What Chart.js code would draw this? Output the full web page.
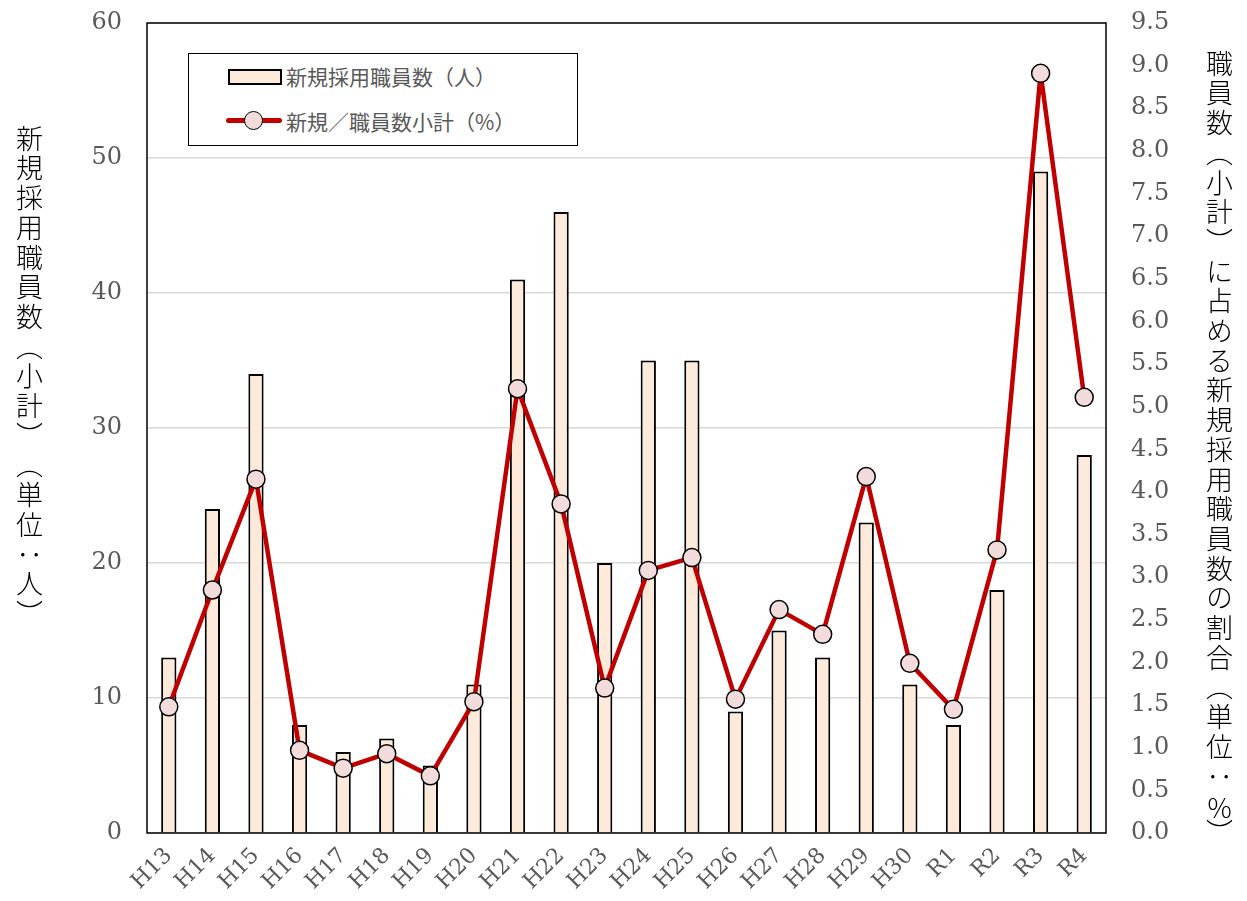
<!DOCTYPE html>
<html lang="ja">
<head>
<meta charset="utf-8">
<title>新規採用職員数</title>
<script src="https://cdn.jsdelivr.net/npm/chart.js@4"></script>
<style>
  html, body { margin: 0; padding: 0; background: #fff; }
  #wrap { position: relative; width: 1247px; height: 901px; }
  #chart { position: absolute; left: 0; top: 0; }
  .vtitle {
    position: absolute;
    writing-mode: vertical-rl;
    text-orientation: mixed;
    text-spacing-trim: space-all;
    font-family: "Noto Sans CJK JP", sans-serif;
    font-weight: 300;
    font-size: 27px;
    color: #000;
    line-height: 1;
    letter-spacing: 2.7px;
  }
  .vtitle .up { text-combine-upright: all; }
  #legend {
    position: absolute;
    left: 188px; top: 53px;
    width: 388px; height: 91px;
    border: 1.5px solid #000;
    background: #fff;
    font-family: "Noto Sans CJK JP", sans-serif;
    font-size: 21px;
    color: #595959;
  }
  .item { position: absolute; left: 37px; height: 28px; display: flex; align-items: center; }
  .swatch { position: relative; width: 56px; height: 28px; margin-right: 4px; }
  .bar-sw { position: absolute; left: 2px; top: 7px; width: 50px; height: 12px; background: #FDEADA; border: 2px solid #000; }
  .line-sw { position: absolute; left: 0; top: 11px; width: 56px; height: 5px; background: #C00000; border-radius: 3px; }
  .dot-sw { position: absolute; left: 18px; top: 4px; width: 19px; height: 19px; border-radius: 50%; background: #F2DCDB; border: 1.5px solid #000; box-sizing: border-box; }
</style>
</head>
<body>
<div id="wrap">
  <canvas id="chart" width="1247" height="901"></canvas>
  <div class="vtitle" style="left:16px; top:125px;">新規採用職員数（小計）（単位：人）</div>
  <div class="vtitle" style="left:1206px; top:50px;">職員数（小計）に占める新規採用職員数の割合（単位：<span class="up">%</span>）</div>
  <div id="legend">
    <div class="item" style="top:8px;"><div class="swatch"><div class="bar-sw"></div></div>新規採用職員数（人）</div>
    <div class="item" style="top:53px;"><div class="swatch"><div class="line-sw"></div><div class="dot-sw"></div></div>新規／職員数小計（%）</div>
  </div>
</div>
<script>
// data
const years = ["H13", "H14", "H15", "H16", "H17", "H18", "H19", "H20", "H21", "H22", "H23",
  "H24", "H25", "H26", "H27", "H28", "H29", "H30", "R1", "R2", "R3", "R4"];
const newHires = [13, 24, 34, 8, 6, 7, 5, 11, 41, 46, 20, 35, 35, 9, 15, 13, 23, 11, 8, 18, 49, 28];
const hireRatio = [1.48, 2.85, 4.15, 0.97, 0.76, 0.93, 0.67, 1.54, 5.21, 3.86, 1.70,
  3.08, 3.23, 1.57, 2.62, 2.33, 4.18, 1.99, 1.45, 3.32, 8.91, 5.11];

const serif = "'DejaVu Serif', 'Liberation Serif', serif";
const tickColor = "#595959";

// black frame round the plot area
const frame = {
  id: "frame",
  afterDatasetsDraw(chart) {
    const a = chart.chartArea;
    const ctx = chart.ctx;
    ctx.save();
    ctx.strokeStyle = "#000";
    ctx.lineWidth = 1.5;
    ctx.strokeRect(a.left, a.top, a.right - a.left, a.bottom - a.top);
    ctx.restore();
  }
};

new Chart(document.getElementById("chart"), {
  data: {
    labels: years,
    datasets: [
      {
        type: "line",
        label: "新規／職員数小計（%）",
        data: hireRatio,
        yAxisID: "y1",
        borderColor: "#C00000",
        borderWidth: 4.5,
        borderJoinStyle: "round",
        pointRadius: 9,
        pointBackgroundColor: "#F2DCDB",
        pointBorderColor: "#000",
        pointBorderWidth: 1.5,
        tension: 0,
        order: 0
      },
      {
        type: "bar",
        label: "新規採用職員数（人）",
        data: newHires,
        yAxisID: "y",
        backgroundColor: "#FDEADA",
        borderColor: "#000",
        borderWidth: 2,
        categoryPercentage: 1,
        barPercentage: 0.35,
        order: 1
      }
    ]
  },
  options: {
    responsive: false,
    animation: false,
    layout: { padding: { top: 23, left: 0, right: 0, bottom: 0 } },
    plugins: { legend: { display: false }, tooltip: { enabled: false } },
    scales: {
      x: {
        grid: { display: false },
        border: { display: false },
        ticks: {
          color: tickColor,
          font: { family: serif, size: 22 },
          minRotation: 45, maxRotation: 45, padding: 2, autoSkip: false
        },
        afterFit(s) { s.height = 68; }
      },
      y: {
        position: "left",
        min: 0, max: 60,
        ticks: { stepSize: 10, color: tickColor, font: { family: serif, size: 24 }, padding: 0 },
        // ticks drawn invisible so that their length spaces the labels off the axis
        grid: { color: "#D9D9D9", lineWidth: 1.5, drawTicks: true, tickLength: 25, tickColor: "rgba(0,0,0,0)" },
        border: { display: false },
        afterFit(s) { s.width = 147; }
      },
      y1: {
        position: "right",
        min: 0, max: 9.5,
        ticks: {
          stepSize: 0.5, color: tickColor, font: { family: serif, size: 24 }, padding: 0,
          callback: v => v.toFixed(1)
        },
        grid: { drawOnChartArea: false, drawTicks: true, tickLength: 25, tickColor: "rgba(0,0,0,0)" },
        border: { display: false },
        afterFit(s) { s.width = 141; }
      }
    }
  },
  plugins: [frame]
});
</script>
</body>
</html>
